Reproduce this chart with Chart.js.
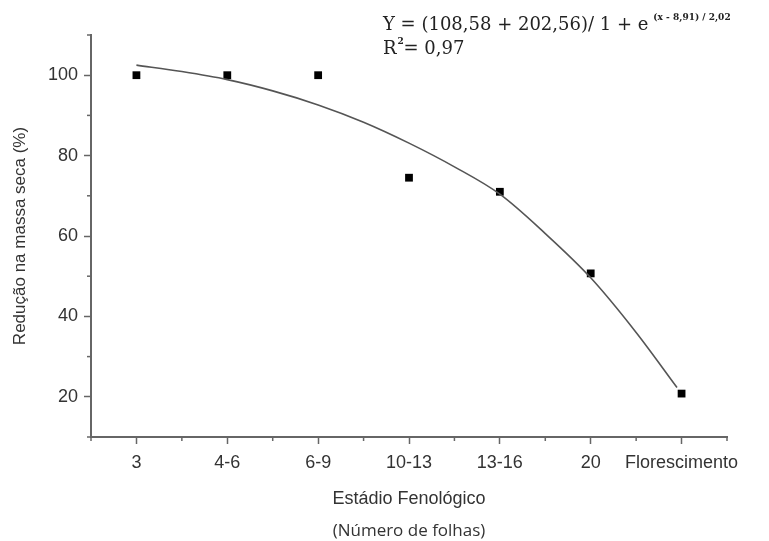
<!DOCTYPE html>
<html>
<head>
<meta charset="utf-8">
<script src="https://cdn.jsdelivr.net/npm/chart.js@4"></script>
<style>
  html, body { margin: 0; padding: 0; background: #fff; }
  #wrap { width: 769px; height: 541px; }
</style>
</head>
<body>
<div id="wrap"><canvas id="chart" width="769" height="541"></canvas></div>
<script>
const stages = ['3', '4-6', '6-9', '10-13', '13-16', '20', 'Florescimento'];
const reduction = [100, 100, 100, 74.5, 71, 50.7, 20.8];

// fitted curve
const fitX = [0, 0.5, 1, 1.5, 2, 2.5, 3, 3.5, 4, 4.5, 5, 5.5, 5.95];
const fitY = [102.5, 100.9, 98.9, 96.1, 92.6, 88.3, 83.1, 77.2, 70.4, 60.6, 49.6, 36.0, 22.3];

const yTicks = [20, 40, 60, 80, 100];
const yMinor = [10, 30, 50, 70, 90, 110];
const xMinor = [-0.5, 0.5, 1.5, 2.5, 3.5, 4.5, 5.5, 6.5];

const axisColor = '#666';
const textColor = '#333';
const sans = "'Liberation Sans', Arial, sans-serif";
const serif = "'DejaVu Serif', serif";

// minor ticks + equation text + second title line
const extras = {
  id: 'extras',
  afterDraw(chart) {
    const { ctx, scales: { x, y } } = chart;
    ctx.save();
    ctx.strokeStyle = axisColor;
    ctx.lineWidth = 1.5;
    yMinor.forEach(v => {
      const py = y.getPixelForValue(v);
      ctx.beginPath();
      ctx.moveTo(y.right - 4, py);
      ctx.lineTo(y.right, py);
      ctx.stroke();
    });
    xMinor.forEach(v => {
      const px = x.getPixelForValue(v);
      ctx.beginPath();
      ctx.moveTo(px, x.top);
      ctx.lineTo(px, x.top + 4);
      ctx.stroke();
    });

    ctx.fillStyle = '#222';
    ctx.textBaseline = 'alphabetic';
    ctx.textAlign = 'left';
    ctx.font = '18px ' + serif;
    const line1 = 'Y = (108,58 + 202,56)/ 1 + e';
    ctx.fillText(line1, 383, 30);
    const w1 = ctx.measureText(line1).width;
    ctx.font = 'bold 9px ' + serif;
    ctx.fillText('(x - 8,91) / 2,02', 383 + w1 + 5, 20);

    ctx.font = '18px ' + serif;
    ctx.fillText('R', 383, 54);
    const wr = ctx.measureText('R').width;
    ctx.font = 'bold 9px ' + serif;
    ctx.fillText('2', 383 + wr + 1, 44);
    ctx.font = '18px ' + serif;
    ctx.fillText('= 0,97', 383 + wr + 7, 54);

    ctx.fillStyle = textColor;
    ctx.textAlign = 'center';
    ctx.font = "17px 'Open Sans', sans-serif";
    ctx.fillText('(Número de folhas)', (chart.chartArea.left + chart.chartArea.right) / 2, 536);
    ctx.restore();
  }
};

new Chart(document.getElementById('chart'), {
  type: 'scatter',
  data: {
    datasets: [
      {
        type: 'line',
        data: fitX.map((v, i) => ({ x: v, y: fitY[i] })),
        borderColor: '#555',
        borderWidth: 1.6,
        pointRadius: 0,
        cubicInterpolationMode: 'monotone',
        fill: false
      },
      {
        data: reduction.map((v, i) => ({ x: i, y: v })),
        pointStyle: 'rect',
        pointRadius: 5.5,
        backgroundColor: '#000',
        borderColor: '#000',
        borderWidth: 0
      }
    ]
  },
  options: {
    responsive: false,
    animation: false,
    layout: { padding: { top: 35, right: 42, left: 0, bottom: 0 } },
    plugins: {
      legend: { display: false },
      tooltip: { enabled: false }
    },
    scales: {
      x: {
        type: 'linear',
        min: -0.5,
        max: 6.5,
        afterBuildTicks: s => { s.ticks = stages.map((_, i) => ({ value: i })); },
        afterFit: s => { s.height = 104; },
        ticks: {
          callback: v => stages[v],
          font: { family: sans, size: 18 },
          color: textColor,
          padding: 8,
          maxRotation: 0,
          autoSkip: false
        },
        grid: { drawOnChartArea: false, tickLength: 7, tickColor: axisColor, tickWidth: 1.5 },
        border: { color: axisColor, width: 2 },
        title: {
          display: true,
          text: 'Estádio Fenológico',
          font: { family: sans, size: 18 },
          color: textColor,
          padding: { top: 0, bottom: 31 }
        }
      },
      y: {
        min: 10,
        max: 110,
        afterBuildTicks: s => { s.ticks = yTicks.map(v => ({ value: v })); },
        afterFit: s => { s.width = 91; },
        ticks: {
          font: { family: sans, size: 18 },
          color: textColor,
          padding: 6
        },
        grid: { drawOnChartArea: false, tickLength: 7, tickColor: axisColor, tickWidth: 1.5 },
        border: { color: axisColor, width: 2 },
        title: {
          display: true,
          text: 'Redução na massa seca (%)',
          font: { family: sans, size: 17 },
          color: textColor,
          padding: { top: 10, bottom: 0 }
        }
      }
    }
  },
  plugins: [extras]
});
</script>
</body>
</html>
